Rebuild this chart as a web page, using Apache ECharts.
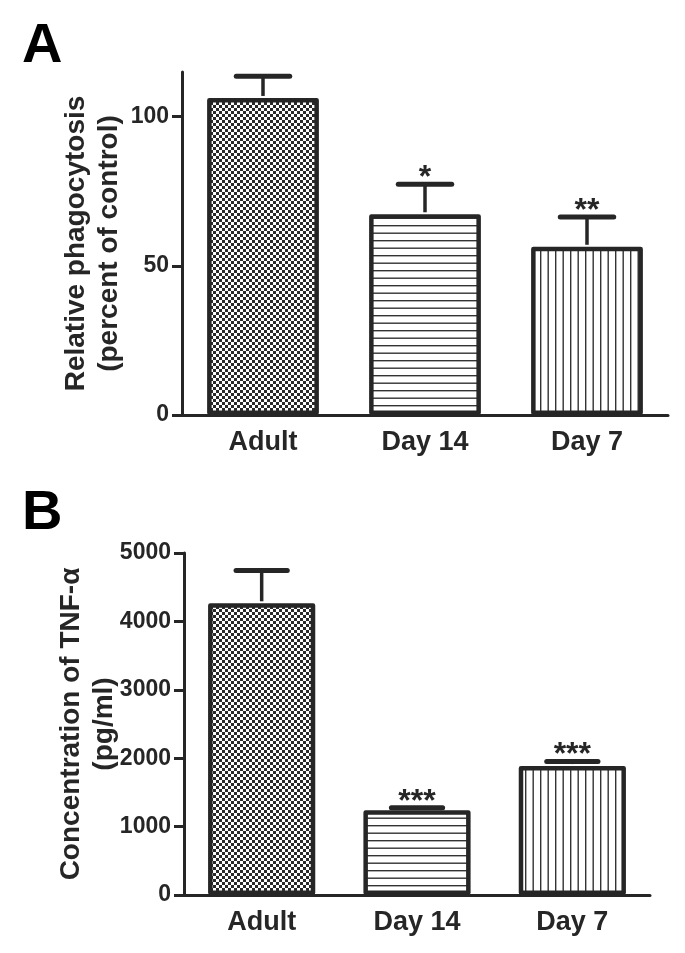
<!DOCTYPE html>
<html>
<head>
<meta charset="utf-8">
<script src="https://cdn.jsdelivr.net/npm/echarts@6/dist/echarts.min.js"></script>
<style>
  html, body { margin: 0; padding: 0; background: #fff; }
  #chart { width: 685px; height: 953px; }
</style>
</head>
<body>
<div id="chart"></div>
<script>
// ---- Data ----
const categories = ['Adult', 'Day 14', 'Day 7'];
// Panel A: relative phagocytosis (percent of control)
const phagoMean = [106.3, 67.3, 56.4];
const phagoUpper = [113.6, 77.4, 66.4];
const phagoStars = ['', '*', '**'];
const phagoTicks = [0, 50, 100];
// Panel B: TNF-alpha concentration (pg/ml)
const tnfMean = [4265, 1240, 1885];
const tnfUpper = [4745, 1275, 1950];
const tnfStars = ['', '***', '***'];
const tnfTicks = [0, 1000, 2000, 3000, 4000, 5000];

const INK = '#262626';
const FONT = '"Liberation Sans", Arial, Helvetica, sans-serif';

function makePattern(kind) {
  const c = document.createElement('canvas');
  const ctx = c.getContext('2d');
  if (kind === 'checker') {
    c.width = 6; c.height = 6;
    ctx.fillStyle = '#ffffff'; ctx.fillRect(0, 0, 6, 6);
    ctx.fillStyle = '#2a2a2a';
    ctx.fillRect(0, 0, 3, 3); ctx.fillRect(3, 3, 3, 3);
  } else if (kind === 'hlines') {
    c.width = 4; c.height = 15;
    ctx.fillStyle = '#ffffff'; ctx.fillRect(0, 0, 4, 15);
    ctx.fillStyle = '#333333';
    ctx.fillRect(0, 0, 4, 1.4); ctx.fillRect(0, 7.5, 4, 1.4);
  } else {
    c.width = 15; c.height = 4;
    ctx.fillStyle = '#ffffff'; ctx.fillRect(0, 0, 15, 4);
    ctx.fillStyle = '#333333';
    ctx.fillRect(0, 0, 1.4, 4); ctx.fillRect(7.5, 0, 1.4, 4);
  }
  return { image: c, repeat: 'repeat' };
}
const patterns = [makePattern('checker'), makePattern('hlines'), makePattern('vlines')];

const BAR_RATIO = 0.69;

function barData(vals) {
  return vals.map((v, i) => ({
    value: v,
    itemStyle: { color: patterns[i] }
  }));
}

function errorSeries(gridIdx, means, uppers, stars) {
  return {
    type: 'custom',
    xAxisIndex: gridIdx,
    yAxisIndex: gridIdx,
    z: 5,
    silent: true,
    data: means.map((m, i) => [i, m, uppers[i]]),
    renderItem: function (params, api) {
      const x = api.value(0), m = api.value(1), u = api.value(2);
      const p0 = api.coord([x, m]);
      const p1 = api.coord([x, u]);
      const band = api.size([1, 0])[0];
      const half = band * 0.66 / 4;
      const star = stars[params.dataIndex];
      const children = [
        { type: 'line', shape: { x1: p0[0], y1: p0[1] - 2, x2: p1[0], y2: p1[1] },
          style: { stroke: INK, lineWidth: 3.5 } },
        { type: 'line', shape: { x1: p1[0] - half, y1: p1[1], x2: p1[0] + half, y2: p1[1] },
          style: { stroke: INK, lineWidth: 5, lineCap: 'round' } }
      ];
      if (star) {
        children.push({
          type: 'text',
          style: {
            text: star, x: p1[0], y: p1[1] - 6,
            align: 'center', verticalAlign: 'middle',
            font: 'bold 32px ' + FONT, fill: INK
          }
        });
      }
      return { type: 'group', children: children };
    }
  };
}

function yAxisCfg(gridIdx, max, interval, ticks, name, nameGap) {
  return {
    type: 'value', gridIndex: gridIdx, min: 0, max: max, interval: interval,
    name: name, nameLocation: 'middle', nameRotate: 90, nameGap: nameGap,
    nameMoveOverlap: false,
    nameTextStyle: { fontFamily: FONT, fontWeight: 'bold', fontSize: 28, color: INK, lineHeight: 33 },
    axisLine: { show: true, lineStyle: { color: INK, width: 3 } },
    axisTick: { show: true, length: 10, inside: false, lineStyle: { color: INK, width: 3 }, customValues: ticks },
    axisLabel: { margin: 13, fontFamily: FONT, fontWeight: 'bold', fontSize: 23, color: INK,
                 customValues: ticks, formatter: function (v) { return String(v); } },
    splitLine: { show: false }
  };
}

function xAxisCfg(gridIdx) {
  return {
    type: 'category', gridIndex: gridIdx, data: categories,
    axisLine: { show: true, onZero: false, lineStyle: { color: INK, width: 3 } },
    axisTick: { show: false },
    axisLabel: { margin: 14, fontFamily: FONT, fontWeight: 'bold', fontSize: 27, color: INK }
  };
}

const barCommon = {
  type: 'bar',
  barWidth: (BAR_RATIO * 100) + '%',
  itemStyle: { borderColor: INK, borderWidth: 4.5, borderJoin: 'round' },
  silent: true,
  animation: false
};

const option = {
  animation: false,
  backgroundColor: '#ffffff',
  title: [
    { text: 'A', left: 17, top: 14, textStyle: { fontFamily: FONT, fontWeight: 'bold', fontSize: 56, color: '#000' } },
    { text: 'B', left: 17, top: 481, textStyle: { fontFamily: FONT, fontWeight: 'bold', fontSize: 56, color: '#000' } }
  ],
  grid: [
    { left: 182, top: 72, width: 486, height: 343 },
    { left: 184, top: 553, width: 466, height: 342 }
  ],
  xAxis: [xAxisCfg(0), xAxisCfg(1)],
  yAxis: [
    yAxisCfg(0, 115, 50, phagoTicks, 'Relative phagocytosis\n(percent of control)', 56),
    yAxisCfg(1, 5000, 1000, tnfTicks, 'Concentration of TNF-\u03b1\n(pg/ml)', 63)
  ],
  series: [
    Object.assign({}, barCommon, { xAxisIndex: 0, yAxisIndex: 0, data: barData(phagoMean) }),
    errorSeries(0, phagoMean, phagoUpper, phagoStars),
    Object.assign({}, barCommon, { xAxisIndex: 1, yAxisIndex: 1, data: barData(tnfMean) }),
    errorSeries(1, tnfMean, tnfUpper, tnfStars)
  ]
};

const chart = echarts.init(document.getElementById('chart'), null, { renderer: 'canvas' });
chart.setOption(option);
</script>
</body>
</html>
